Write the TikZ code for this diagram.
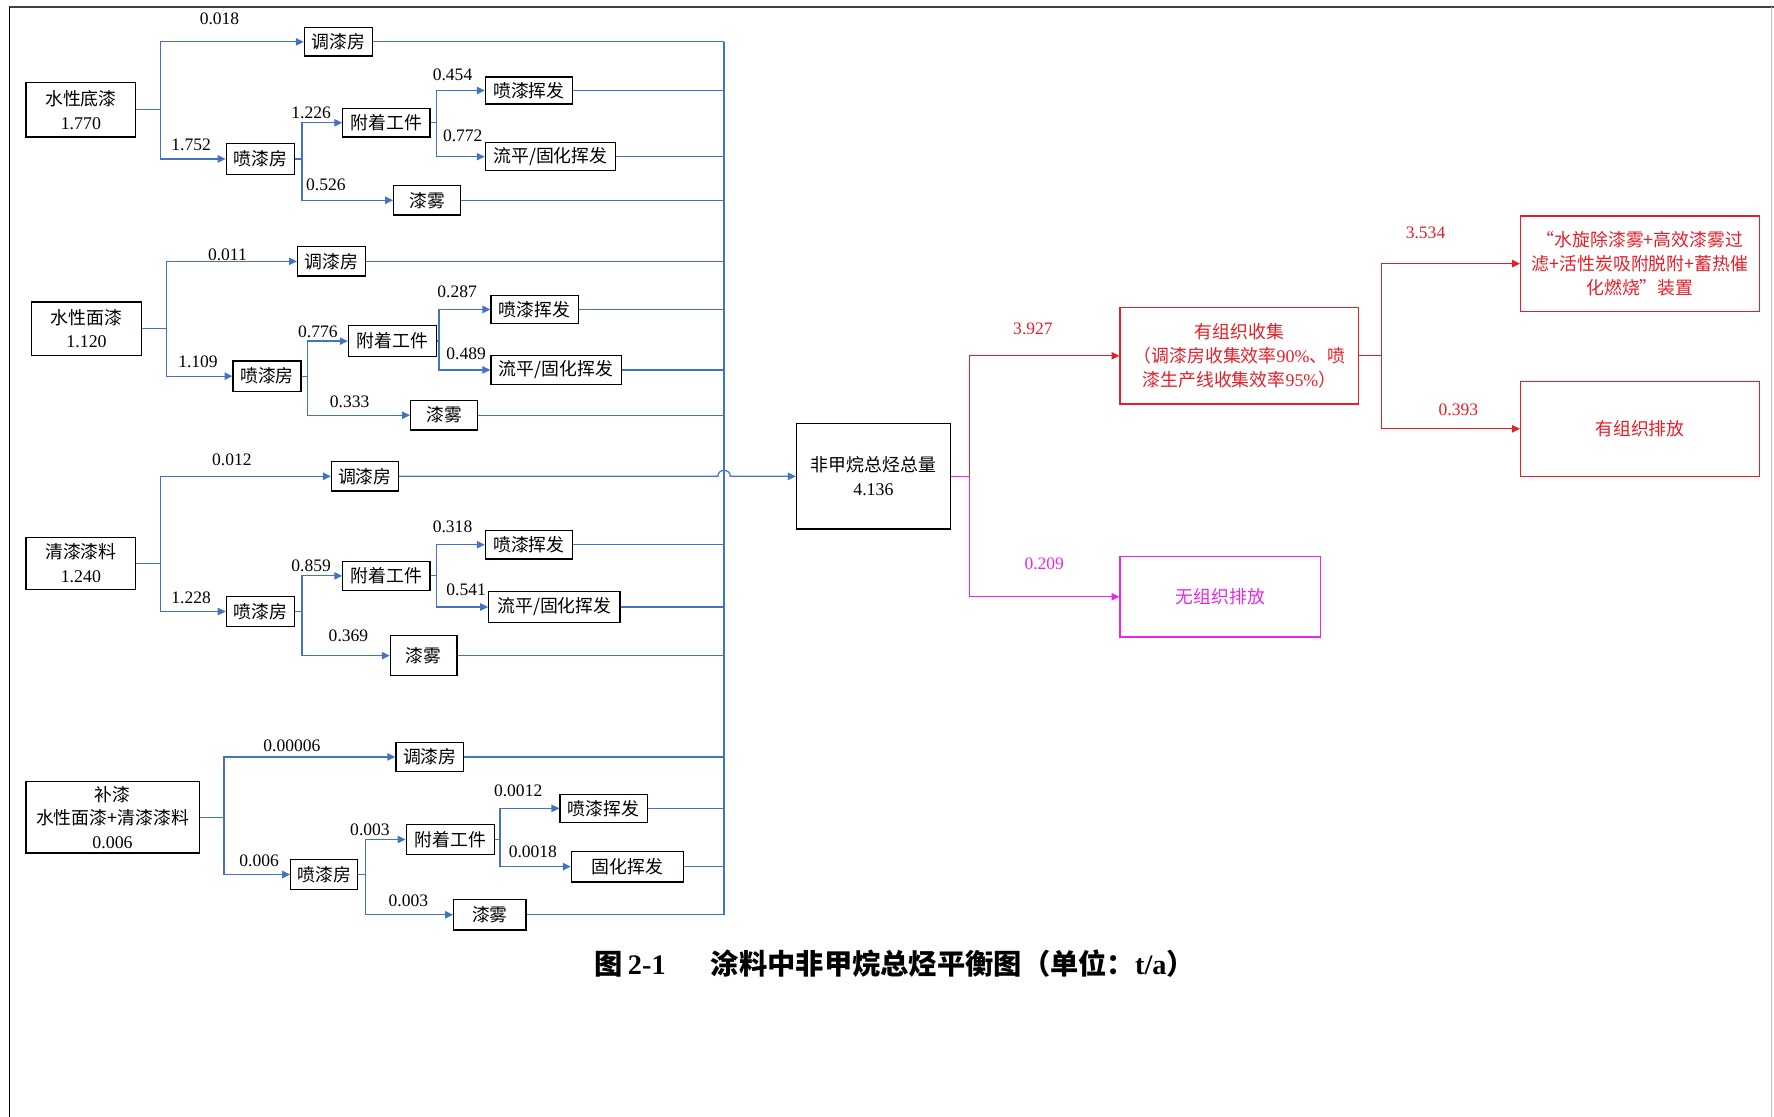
\documentclass[tikz,border=0pt]{standalone}
\usepackage{fontspec}
\setmainfont{Liberation Serif}
\newfontfamily\cjk{Noto Sans CJK SC}
\usetikzlibrary{arrows.meta}
\definecolor{lblue}{RGB}{68,114,196}
\definecolor{lred}{RGB}{232,30,40}
\definecolor{lmag}{RGB}{232,40,232}
\newcommand\zh[1]{{\cjk #1}}
\begin{document}
\begin{tikzpicture}[x=1pt,y=-1pt,
  box/.style={draw=black, line width=1.1pt, inner sep=0pt, align=center, font=\fontsize{15.8}{21}\selectfont},
  rbox/.style={box, draw=lred, text=lred},
  mbox/.style={box, draw=lmag, text=lmag},
  sz/.style 2 args={minimum width=#1pt, minimum height=#2pt},
  num/.style={inner sep=0pt, font=\fontsize{15.5}{18}\selectfont},
  bl/.style={draw=lblue, line width=1.1pt},
  rl/.style={draw=lred, line width=1.1pt},
  ml/.style={draw=lmag, line width=1.1pt},
  arr/.style={-{Triangle[length=7pt,width=6.5pt]}},
]
\useasboundingbox (0,0) rectangle (1568,987);
\fill[white] (0,0) rectangle (1568,987);
% frame
\draw[line width=1.8pt, draw=black!75] (8,6) -- (1568,6);
\draw[line width=1.4pt, draw=black] (8.5,6) -- (8.5,987);
\draw[line width=1pt, draw=black!25] (1566,6) -- (1566,987);

% ---------- section 1 ----------
\node[box,sz={97}{48}] (src1) at (71.5,97) {\zh{水性底漆}\\1.770};
\node[box,sz={60}{25}] (t1) at (299,37) {\zh{调漆房}};
\node[box,sz={60}{27}] (p1) at (230,140.5) {\zh{喷漆房}};
\node[box,sz={77}{25}] (f1) at (341.5,108.5) {\zh{附着工件}};
\node[box,sz={59}{26}] (m1) at (377.5,177) {\zh{漆雾}};
\node[box,sz={77}{24}] (v1) at (467.5,80) {\zh{喷漆挥发}};
\node[box,sz={115}{25}] (g1) at (486.5,138.5) {\zh{流平/固化挥发}};
\coordinate (j1a) at (142,97);
\coordinate (j1b) at (267,140.5);
\coordinate (j1c) at (386,108.5);
\draw[bl] (src1.east) -- (j1a);
\draw[bl,arr] (j1a) |- (t1.west);
\draw[bl,arr] (j1a) |- (p1.west);
\draw[bl] (p1.east) -- (j1b);
\draw[bl,arr] (j1b) |- (f1.west);
\draw[bl,arr] (j1b) |- (m1.west);
\draw[bl] (f1.east) -- (j1c);
\draw[bl,arr] (j1c) |- (v1.west);
\draw[bl,arr] (j1c) |- (g1.west);
\node[num] (l11) at (194,17) {0.018};
\node[num] (l12) at (169,128) {1.752};
\node[num] (l13) at (275,100) {1.226};
\node[num] (l14) at (288,163) {0.526};
\node[num] (l15) at (400,66) {0.454};
\node[num] (l16) at (409,120) {0.772};

% ---------- section 2 ----------
\node[box,sz={97}{47}] (src2) at (76.5,290.5) {\zh{水性面漆}\\1.120};
\node[box,sz={60}{26}] (t2) at (293,231) {\zh{调漆房}};
\node[box,sz={60}{27}] (p2) at (236,332.5) {\zh{喷漆房}};
\node[box,sz={78}{27}] (f2) at (347,301.5) {\zh{附着工件}};
\node[box,sz={59}{26}] (m2) at (392.5,367) {\zh{漆雾}};
\node[box,sz={77}{25}] (v2) at (472.5,273.5) {\zh{喷漆挥发}};
\node[box,sz={115}{26}] (g2) at (491.5,327) {\zh{流平/固化挥发}};
\coordinate (j2a) at (147,290.5);
\coordinate (j2b) at (272,332.5);
\coordinate (j2c) at (388,301.5);
\draw[bl] (src2.east) -- (j2a);
\draw[bl,arr] (j2a) |- (t2.west);
\draw[bl,arr] (j2a) |- (p2.west);
\draw[bl] (p2.east) -- (j2b);
\draw[bl,arr] (j2b) |- (f2.west);
\draw[bl,arr] (j2b) |- (m2.west);
\draw[bl] (f2.east) -- (j2c);
\draw[bl,arr] (j2c) |- (v2.west);
\draw[bl,arr] (j2c) |- (g2.west);
\node[num] (l21) at (201,225) {0.011};
\node[num] (l22) at (175,320) {1.109};
\node[num] (l23) at (281,293) {0.776};
\node[num] (l24) at (309,355) {0.333};
\node[num] (l25) at (404,258) {0.287};
\node[num] (l26) at (412,313) {0.489};

% ---------- section 3 ----------
\node[box,sz={97}{46}] (src3) at (71.5,498) {\zh{清漆漆料}\\1.240};
\node[box,sz={59}{26}] (t3) at (322.5,421) {\zh{调漆房}};
\node[box,sz={60}{27}] (p3) at (230,540.5) {\zh{喷漆房}};
\node[box,sz={77}{26}] (f3) at (341.5,509) {\zh{附着工件}};
\node[box,sz={59}{35}] (m3) at (374.5,579.5) {\zh{漆雾}};
\node[box,sz={77}{25}] (v3) at (467.5,481.5) {\zh{喷漆挥发}};
\node[box,sz={116}{27}] (g3) at (490,536.5) {\zh{流平/固化挥发}};
\coordinate (j3a) at (142,498);
\coordinate (j3b) at (267,540.5);
\coordinate (j3c) at (386,509);
\draw[bl] (src3.east) -- (j3a);
\draw[bl,arr] (j3a) |- (t3.west);
\draw[bl,arr] (j3a) |- (p3.west);
\draw[bl] (p3.east) -- (j3b);
\draw[bl,arr] (j3b) |- (f3.west);
\draw[bl,arr] (j3b) |- (m3.west);
\draw[bl] (f3.east) -- (j3c);
\draw[bl,arr] (j3c) |- (v3.west);
\draw[bl,arr] (j3c) |- (g3.west);
\node[num] (l31) at (205,406) {0.012};
\node[num] (l32) at (169,528) {1.228};
\node[num] (l33) at (275,500) {0.859};
\node[num] (l34) at (308,562) {0.369};
\node[num] (l35) at (400,466) {0.318};
\node[num] (l36) at (412,521) {0.541};

% ---------- section 4 ----------
\node[box,sz={153}{63}] (src4) at (99.5,722.5) {\zh{补漆}\\\zh{水性面漆+清漆漆料}\\0.006};
\node[box,sz={60}{26}] (t4) at (380,669) {\zh{调漆房}};
\node[box,sz={59}{26}] (p4) at (286.5,773) {\zh{喷漆房}};
\node[box,sz={78}{26}] (f4) at (398,742) {\zh{附着工件}};
\node[box,sz={64}{27}] (m4) at (433,808.5) {\zh{漆雾}};
\node[box,sz={77}{25}] (v4) at (533.5,714.5) {\zh{喷漆挥发}};
\node[box,sz={99}{27}] (g4) at (554.5,766) {\zh{固化挥发}};
\coordinate (j4a) at (198,722.5);
\coordinate (j4b) at (323,773);
\coordinate (j4c) at (442,742);
\draw[bl] (src4.east) -- (j4a);
\draw[bl,arr] (j4a) |- (t4.west);
\draw[bl,arr] (j4a) |- (p4.west);
\draw[bl] (p4.east) -- (j4b);
\draw[bl,arr] (j4b) |- (f4.west);
\draw[bl,arr] (j4b) |- (m4.west);
\draw[bl] (f4.east) -- (j4c);
\draw[bl,arr] (j4c) |- (v4.west);
\draw[bl,arr] (j4c) |- (g4.west);
\node[num] (l41) at (258,659) {0.00006};
\node[num] (l42) at (229,761) {0.006};
\node[num] (l43) at (327,733) {0.003};
\node[num] (l44) at (361,796) {0.003};
\node[num] (l45) at (458,699) {0.0012};
\node[num] (l46) at (471,753) {0.0018};

% ---------- collector ----------
\coordinate (ctop) at (640,37);
\coordinate (cbot) at (640,808.5);
\draw[bl] (ctop) -- (cbot);
\foreach \n in {t1,v1,g1,m1,t2,v2,g2,m2,v3,g3,m3,t4,v4,g4,m4}
  \draw[bl] (\n.east) -- (\n.east -| ctop);

% ---------- total ----------
\node[box,sz={136}{93}] (tot) at (772,421) {\zh{非甲烷总烃总量}\\4.136};
\coordinate (hl) at (634.5,421);
\coordinate (hr) at (645.5,421);
\draw[bl,arr] (t3.east) -- (hl) .. controls +(0,-7) and +(0,-7) .. (hr) -- (tot.west);

% ---------- right part ----------
\node[rbox,sz={211}{85}] (org) at (1095.5,314.5) {\zh{有组织收集}\\\zh{（调漆房收集效率}90\%\zh{、喷}\\\zh{漆生产线收集效率}95\%\zh{）}};
\node[mbox,sz={177}{71}] (unorg) at (1078.5,527.5) {\zh{无组织排放}};
\node[rbox,sz={211}{84}] (dev) at (1449.5,233) {\zh{“水旋除漆雾+高效漆雾过}\\\zh{滤+活性炭吸附脱附+蓄热催}\\\zh{化燃烧”装置}};
\node[rbox,sz={211}{84}] (emit) at (1449.5,379) {\zh{有组织排放}};
\coordinate (k1) at (857,421);
\coordinate (k2) at (1221,314.5);
\draw[ml] (tot.east) -- (k1);
\draw[rl,arr] (k1) |- (org.west);
\draw[ml,arr] (k1) |- (unorg.west);
\draw[rl] (org.east) -- (k2);
\draw[rl,arr] (k2) |- (dev.west);
\draw[rl,arr] (k2) |- (emit.west);
\node[num,text=lred] (r1) at (913,291) {3.927};
\node[num,text=lred] (r2) at (1260,206) {3.534};
\node[num,text=lred] (r3) at (1289,362) {0.393};
\node[num,text=lmag] (r4) at (923,498) {0.209};

% ---------- caption ----------
\node[inner sep=0pt, font=\fontsize{25}{29}\selectfont\bfseries] (cap) at (791,852)
  {\zh{图}\,2-1\hspace{40pt}\zh{涂料中非甲烷总烃平衡图（单位：}t/a\zh{）}};
\end{tikzpicture}
\end{document}
